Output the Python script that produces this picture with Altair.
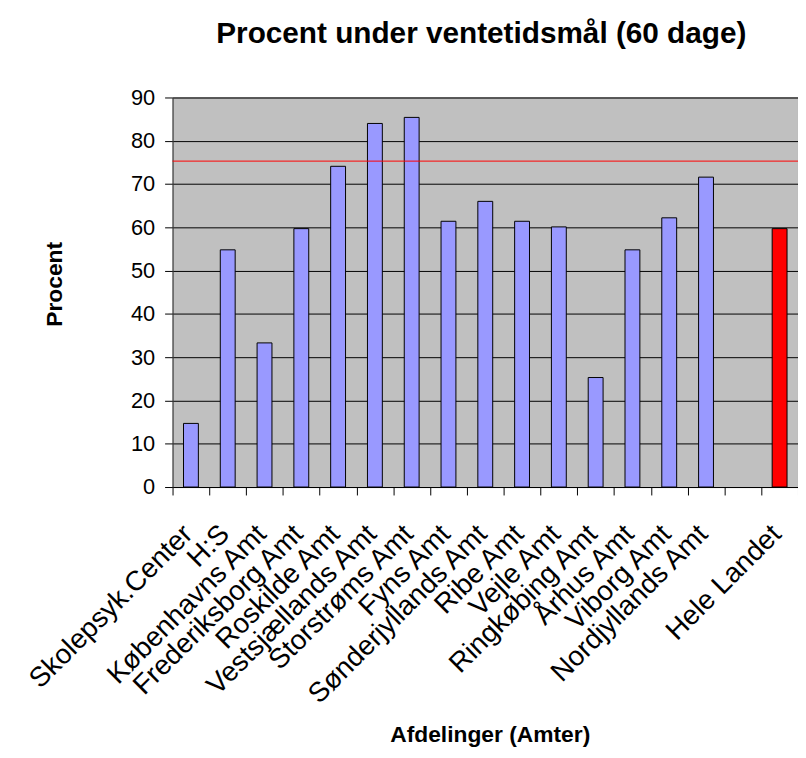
import altair as alt
import pandas as pd

FONT = "Liberation Sans"

categories = ["Skolepsyk.Center", "H:S", "Københavns Amt", "Frederiksborg Amt",
              "Roskilde Amt", "Vestsjællands Amt", "Storstrøms Amt", "Fyns Amt",
              "Sønderjyllands Amt", "Ribe Amt", "Vejle Amt", "Ringkøbing Amt",
              "Århus Amt", "Viborg Amt", "Nordjyllands Amt", " ", "Hele Landet"]
values = [14.7, 54.8, 33.3, 59.7, 74.1, 84.0, 85.4, 61.4, 66.0, 61.4,
          60.1, 25.3, 54.8, 62.2, 71.6, None, 59.7]
groups = ["Amt"] * 15 + ["tom", "Landet"]
target = [75.3]
y_ticks = [0, 10, 20, 30, 40, 50, 60, 70, 80, 90]

df = pd.DataFrame({"Afdeling": categories, "Procent": values, "Gruppe": groups})
df = df[df["Procent"].notna()]

bars = alt.Chart(df).mark_bar(size=15, stroke="black", strokeWidth=1).encode(
    x=alt.X("Afdeling:N", sort=categories,
            scale=alt.Scale(domain=categories, paddingInner=0, paddingOuter=0),
            axis=alt.Axis(title="Afdelinger (Amter)", titleFont=FONT, titleFontSize=23,
                          titleFontWeight="bold", titleColor="black",
                          titleX=320, titleY=257, titleAlign="center",
                          titleBaseline="alphabetic",
                          labelAngle=-45, labelAlign="right", labelBaseline="middle",
                          labelFont=FONT, labelFontSize=28, labelColor="black",
                          labelPadding=35, labelOffset=-3, labelLimit=1000,
                          labelOverlap=False,
                          tickBand="extent", tickSize=8, tickColor="black",
                          domainColor="black", grid=False)),
    y=alt.Y("Procent:Q", scale=alt.Scale(domain=[0, 90], nice=False),
            axis=alt.Axis(values=y_ticks, title="Procent", titleFont=FONT,
                          titleFontSize=23, titleFontWeight="bold", titleColor="black",
                          titleAngle=270, titleX=-112, titleY=188,
                          titleAlign="center", titleBaseline="alphabetic",
                          labelFont=FONT, labelFontSize=22, labelColor="black",
                          labelPadding=10, tickSize=8, tickColor="black",
                          domainColor="#404040", grid=True, gridColor="black",
                          gridWidth=1, gridOpacity=1)),
    color=alt.Color("Gruppe:N",
                    scale=alt.Scale(domain=["Amt", "Landet"], range=["#9999FF", "#FF0000"]),
                    legend=None),
)

rule = alt.Chart(pd.DataFrame({"maal": target})).mark_rule(
    color="#FF0000", strokeWidth=1).encode(
    y=alt.Y("maal:Q", title="Procent")
)

chart = alt.layer(bars, rule).properties(
    width=631, height=393,
    title=alt.TitleParams("Procent under ventetidsmål (60 dage)", font=FONT,
                          fontSize=30, fontWeight="bold", color="black",
                          anchor="middle", frame="group", dx=-4, offset=38),
    autosize=alt.AutoSizeParams(type="none"),
    padding={"left": 166, "top": 87, "right": 0, "bottom": 260},
).configure_view(fill="#C0C0C0", stroke="#808080", strokeWidth=1)

chart.save("out.html", embed_options={"renderer": "svg", "actions": False})
